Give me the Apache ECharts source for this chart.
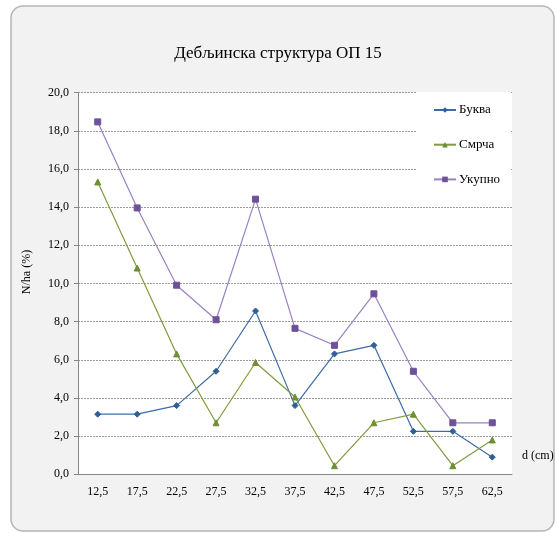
<!DOCTYPE html>
<html>
<head>
<meta charset="utf-8">
<script src="https://cdn.jsdelivr.net/npm/echarts@6/dist/echarts.min.js"></script>
<style>html,body{margin:0;padding:0;background:#fff}#c{width:556px;height:533px}</style>
</head>
<body>
<div id="c"></div>
<script>
const titleText = 'Дебљинска структура ОП 15';
const categories = ['12,5','17,5','22,5','27,5','32,5','37,5','42,5','47,5','52,5','57,5','62,5'];
const bukva = [3.15, 3.15, 3.6, 5.4, 8.56, 3.6, 6.31, 6.76, 2.25, 2.25, 0.9];
const smrca = [15.32, 10.81, 6.31, 2.7, 5.86, 4.05, 0.45, 2.7, 3.15, 0.45, 1.8];
const ukupno = [18.47, 13.96, 9.91, 8.1, 14.42, 7.65, 6.76, 9.46, 5.4, 2.7, 2.7];
const seriesNames = ['Буква', 'Смрча', 'Укупно'];
const yName = 'N/ha (%)';
const xName = 'd (cm)';

const FONT = "'Liberation Serif', 'Times New Roman', serif";
const chart = echarts.init(document.getElementById('c'), null, {renderer: 'canvas'});

function mk(name, data, color, mcolor, symbol, size) {
  return {
    name: name, type: 'line', data: data,
    symbol: symbol, symbolSize: size,
    lineStyle: {color: color, width: 1.2},
    itemStyle: {color: mcolor, borderColor: mcolor},
    emphasis: {disabled: true}
  };
}

chart.setOption({
  animation: false,
  textStyle: {fontFamily: FONT},
  graphic: [
    {type: 'rect', z: -10, shape: {x: 11, y: 6, width: 543, height: 525, r: 12},
     style: {fill: '#f2f2f2', stroke: '#b5b5b5', lineWidth: 1.5}},
    {type: 'text', left: 522, top: 450,
     style: {text: xName, font: '12px ' + FONT, fill: '#000'}},
    {type: 'text', x: 27, y: 272, rotation: Math.PI / 2,
     style: {text: yName, font: '12px ' + FONT, fill: '#000', align: 'center', verticalAlign: 'middle'}}
  ],
  title: {
    text: titleText, left: 'center', top: 40,
    textStyle: {fontFamily: FONT, fontSize: 17, fontWeight: 'normal', color: '#000'}
  },
  legend: {
    orient: 'vertical', left: 416, top: 92,
    backgroundColor: '#fff', padding: [11, 4, 14, 17],
    itemWidth: 22, itemHeight: 7, itemGap: 20.7,
    textStyle: {fontFamily: FONT, fontSize: 13, color: '#000', lineHeight: 14, width: 48, padding: [0, 0, 0, -2]},
    data: seriesNames
  },
  grid: {left: 78, right: 44, top: 92.7, bottom: 58.7, show: true, backgroundColor: '#fff', borderWidth: 0},
  xAxis: {
    type: 'category', data: categories, boundaryGap: true,
    axisLine: {lineStyle: {color: '#868686'}},
    axisTick: {alignWithLabel: true, length: 4, lineStyle: {color: '#868686'}},
    axisLabel: {fontFamily: FONT, fontSize: 12, color: '#000', margin: 12},
    splitLine: {show: false}
  },
  yAxis: {
    type: 'value', min: 0, max: 20, interval: 2,
    axisLine: {show: true, lineStyle: {color: '#868686'}},
    axisTick: {show: true, length: 4, lineStyle: {color: '#868686'}},
    axisLabel: {fontFamily: FONT, fontSize: 12, color: '#000', margin: 9,
      formatter: v => v.toFixed(1).replace('.', ',')},
    splitLine: {show: true, lineStyle: {color: '#9a9a9a', type: [2, 1], width: 1}}
  },
  series: [
    mk(seriesNames[0], bukva, '#3c6da6', '#2f5f98', 'diamond', 6),
    mk(seriesNames[1], smrca, '#7f9c3f', '#6f8f30', 'triangle', 6),
    mk(seriesNames[2], ukupno, '#9a82c2', '#6e5197', 'rect', 6)
  ]
});
</script>
</body>
</html>
